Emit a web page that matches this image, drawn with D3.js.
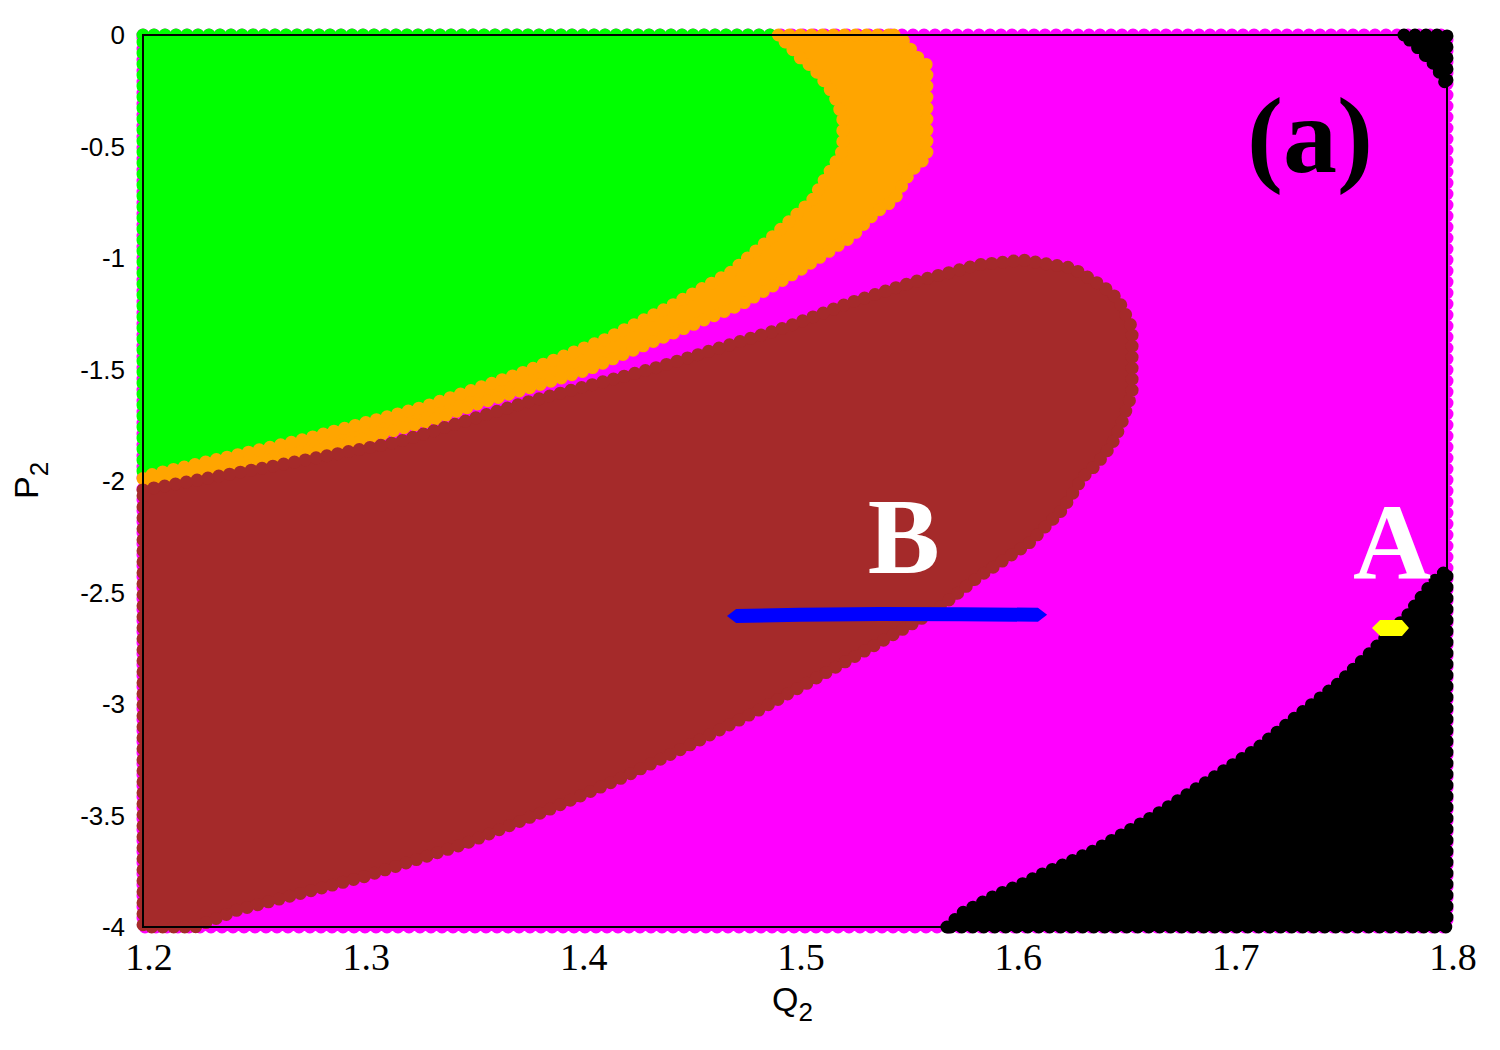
<!DOCTYPE html>
<html>
<head>
<meta charset="utf-8">
<script src="https://cdn.jsdelivr.net/npm/d3@7"></script>
<style>
  html, body { margin: 0; padding: 0; background: #ffffff; }
  svg { display: block; }
</style>
</head>
<body>
<svg id="chart" width="1500" height="1050"></svg>
<script>
// ---------------- data ----------------
const xTicks = [1.2, 1.3, 1.4, 1.5, 1.6, 1.7, 1.8];
const xTickLabels = ["1.2", "1.3", "1.4", "1.5", "1.6", "1.7", "1.8"];
const yTicks = [0, -0.5, -1, -1.5, -2, -2.5, -3, -3.5, -4];
const yTickLabels = ["0", "-0.5", "-1", "-1.5", "-2", "-2.5", "-3", "-3.5", "-4"];

// green basin: right / lower boundary, from top edge down to left edge
const greenQ = [1.492, 1.498, 1.502, 1.508, 1.512, 1.518, 1.522, 1.522, 1.518, 1.512, 1.508, 1.498, 1.488, 1.470, 1.442, 1.412, 1.374, 1.329, 1.273, 1.207, 1.200];
const greenP = [0, -0.054, -0.099, -0.144, -0.188, -0.269, -0.368, -0.516, -0.583, -0.673, -0.740, -0.830, -0.919, -1.067, -1.220, -1.368, -1.516, -1.668, -1.816, -1.964, -1.982];

// orange band: outer boundary, from top edge down to left edge
const orangeQ = [1.5456, 1.5506, 1.5552, 1.5607, 1.5607, 1.5552, 1.5506, 1.5456, 1.5368, 1.5258, 1.5023, 1.4756, 1.4397, 1.4043, 1.3537, 1.3330, 1.2860, 1.2262, 1.2000];
const orangeP = [0, -0.031, -0.090, -0.135, -0.547, -0.592, -0.650, -0.740, -0.798, -0.906, -1.054, -1.206, -1.354, -1.502, -1.655, -1.727, -1.852, -1.960, -2.022];

// brown basin: closed outline
const brownQ = [1.2000, 1.2580, 1.3173, 1.3767, 1.4356, 1.4949, 1.5249, 1.5543, 1.5842, 1.6049, 1.6275, 1.6385, 1.6459, 1.6500, 1.6551, 1.6551, 1.6500, 1.6454, 1.6385,
                1.6325, 1.6229, 1.6072, 1.5842, 1.5649, 1.5377, 1.5106, 1.4834, 1.4526, 1.4213, 1.3864, 1.3477, 1.3012, 1.2433, 1.2239, 1.2000];
const brownP = [-2.040, -1.937, -1.825, -1.646, -1.493, -1.314, -1.202, -1.108, -1.031, -1.009, -1.045, -1.108, -1.157, -1.211, -1.314, -1.605, -1.749, -1.843, -1.928,
                -1.982, -2.130, -2.283, -2.431, -2.579, -2.731, -2.879, -3.027, -3.179, -3.327, -3.475, -3.628, -3.776, -3.924, -4.000, -4.000];

// black basin (lower right): boundary from bottom edge up to right edge
const blackQ = [1.5699, 1.5768, 1.5856, 1.5916, 1.6054, 1.6146, 1.6252, 1.6380, 1.6652, 1.6887, 1.7117, 1.7310, 1.7503, 1.7660, 1.7816, 1.7931, 1.8000];
const blackP = [-4.000, -3.937, -3.892, -3.861, -3.803, -3.758, -3.713, -3.655, -3.502, -3.354, -3.206, -3.054, -2.906, -2.758, -2.605, -2.457, -2.399];

// black basin (upper right corner)
const cornerQ = [1.7802, 1.8000, 1.8000, 1.7949, 1.7853];
const cornerP = [0, 0, -0.229, -0.139, -0.045];

// blue orbit B (centre line)
const blueQ = [1.4687, 1.4729, 1.5023, 1.5391, 1.5759, 1.6118, 1.6160];
const blueP = [-2.605, -2.605, -2.600, -2.596, -2.597, -2.600, -2.600];

// yellow orbit A (outline)
const yellowQ = [1.7655, 1.7692, 1.7793, 1.7825, 1.7793, 1.7692];
const yellowP = [-2.659, -2.623, -2.623, -2.659, -2.695, -2.695];

const labels = [
  { text: "(a)", q: 1.7080, p: -0.614, color: "#000000", anchor: "start" },
  { text: "B",   q: 1.5335, p: -2.413, color: "#ffffff", anchor: "start" },
  { text: "A",   q: 1.7747, p: -2.439, color: "#ffffff", anchor: "middle" }
];

// ---------------- drawing ----------------
const svg = d3.select("#chart");
const x = d3.scaleLinear().domain([1.2, 1.8]).range([143, 1447]);
const y = d3.scaleLinear().domain([0, -4]).range([35, 927]);

const zip = (qs, ps) => qs.map((q, i) => [q, ps[i]]);
const line = d3.line().x(d => x(d[0])).y(d => y(d[1]));
const closed = pts => line(pts) + "Z";

function region(pts, color) {
  // filled region whose edge is made of round "grid dots", like the original
  svg.append("path")
    .attr("d", closed(pts))
    .attr("fill", color)
    .attr("stroke", color)
    .attr("stroke-width", 13)
    .attr("stroke-dasharray", "0 11")
    .attr("stroke-linecap", "round")
    .attr("stroke-linejoin", "round");
}

const greenPts = zip(greenQ, greenP);
region([[1.2, 0], [1.8, 0], [1.8, -4], [1.2, -4]], "#ff00ff");
region([[1.2, 0], ...greenPts], "#00ff00");
region([...zip(orangeQ, orangeP), ...greenPts.slice().reverse()], "#ffa500");
region(zip(brownQ, brownP), "#a52a2a");
region([...zip(blackQ, blackP), [1.8, -4]], "#000000");
region(zip(cornerQ, cornerP), "#000000");

// blue orbit
const n = blueQ.length;
const blueArea = d3.area()
  .x(d => x(d[0]))
  .y0((d, i) => y(d[1]) - ((i === 0 || i === n - 1) ? 0 : 7))
  .y1((d, i) => y(d[1]) + ((i === 0 || i === n - 1) ? 0 : 7));
svg.append("path").attr("d", blueArea(zip(blueQ, blueP))).attr("fill", "#0000ff");

// yellow orbit
svg.append("path").attr("d", closed(zip(yellowQ, yellowP))).attr("fill", "#ffff00");

// frame
svg.append("rect")
  .attr("x", x(1.2)).attr("y", y(0))
  .attr("width", x(1.8) - x(1.2)).attr("height", y(-4) - y(0))
  .attr("fill", "none").attr("stroke", "#000").attr("stroke-width", 2);

// in-plot labels
svg.selectAll("text.lab").data(labels).enter().append("text")
  .attr("class", "lab")
  .attr("x", d => x(d.q)).attr("y", d => y(d.p))
  .attr("text-anchor", d => d.anchor)
  .attr("fill", d => d.color)
  .style("font-family", "'Liberation Serif', 'Times New Roman', serif")
  .style("font-weight", "bold")
  .style("font-size", "108px")
  .text(d => d.text);

// x tick labels
svg.selectAll("text.xt").data(xTicks).enter().append("text")
  .attr("class", "xt")
  .attr("x", d => x(d) + 6).attr("y", 970)
  .attr("text-anchor", "middle")
  .style("font-family", "'Liberation Serif', 'Times New Roman', serif")
  .style("font-size", "38px")
  .text((d, i) => xTickLabels[i]);

// y tick labels
svg.selectAll("text.yt").data(yTicks).enter().append("text")
  .attr("class", "yt")
  .attr("x", 125).attr("y", d => y(d) + 9)
  .attr("text-anchor", "end")
  .style("font-family", "'Liberation Sans', Arial, sans-serif")
  .style("font-size", "26px")
  .text((d, i) => yTickLabels[i]);

// axis titles
const xt = svg.append("text")
  .attr("x", 772).attr("y", 1011)
  .style("font-family", "'Liberation Sans', Arial, sans-serif")
  .style("font-size", "34px");
xt.append("tspan").text("Q");
xt.append("tspan").attr("dy", 10).style("font-size", "26px").text("2");

const yt = svg.append("text")
  .attr("transform", "translate(38,499) rotate(-90)")
  .style("font-family", "'Liberation Sans', Arial, sans-serif")
  .style("font-size", "34px");
yt.append("tspan").text("P");
yt.append("tspan").attr("dy", 10).style("font-size", "26px").text("2");
</script>
</body>
</html>
